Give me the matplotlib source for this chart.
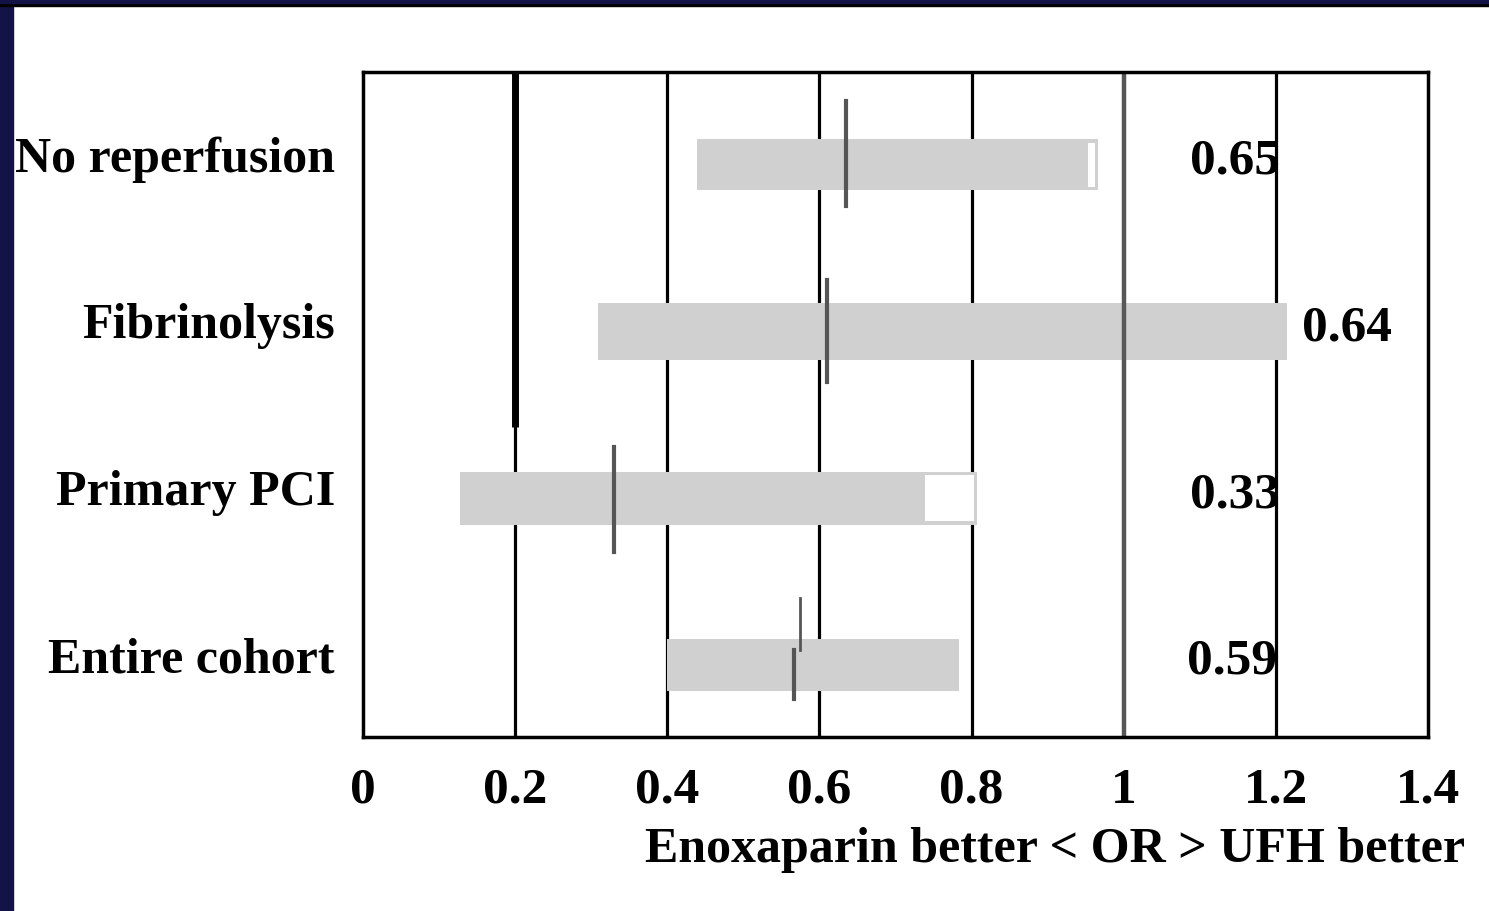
import matplotlib.pyplot as plt
from matplotlib.patches import Rectangle

# data (bottom to top)
groups = ['Entire cohort', 'Primary PCI', 'Fibrinolysis', 'No reperfusion']
or_vals = [0.57, 0.33, 0.61, 0.635]
ci_low = [0.40, 0.127, 0.309, 0.439]
ci_high = [0.784, 0.807, 1.215, 0.966]
white_from = [None, 0.739, None, 0.953]   # white boxed end segment of some bars
labels = ['0.59', '0.33', '0.64', '0.65']
label_x = [1.083, 1.087, 1.235, 1.087]
xticks = [0, 0.2, 0.4, 0.6, 0.8, 1.0, 1.2, 1.4]
xtick_labels = ['0', '0.2', '0.4', '0.6', '0.8', '1', '1.2', '1.4']

plt.rcParams['font.family'] = ['Liberation Serif', 'DejaVu Serif']
plt.rcParams['font.weight'] = 'bold'
fs = 37

fig = plt.figure(figsize=(14.89, 9.11), dpi=100)
fig.patch.set_facecolor('white')

# navy frame of the slide
fig.add_artist(Rectangle((0, 0), 13 / 1489, 1, transform=fig.transFigure, color='#131347', zorder=0))
fig.add_artist(Rectangle((0, 1 - 6 / 911), 1, 6 / 911, transform=fig.transFigure, color='black', zorder=0))
fig.add_artist(Rectangle((0, 1 - 2.5 / 911), 1, 2.5 / 911, transform=fig.transFigure, color='#131347', zorder=1))

ax = fig.add_axes([363 / 1489, 174 / 911, 1065 / 1489, 665 / 911])
ax.set_xlim(0, 1.4)
ax.set_ylim(-0.43, 3.555)

# grid lines
for g in [0.4, 0.6, 0.8, 1.2]:
    ax.axvline(g, color='black', lw=2.3, zorder=1)
ax.axvline(0.2, color='black', lw=2.3, zorder=1)
ax.plot([0.2, 0.2], [1.43, 3.555], color='black', lw=5, solid_capstyle='butt', zorder=1)
ax.axvline(1.0, color='#555855', lw=3.2, zorder=4)

ys = list(range(len(groups)))
heights = [0.31, 0.32, 0.34, 0.31]
ax.barh(ys, [h - l for l, h in zip(ci_low, ci_high)], left=ci_low,
        height=heights, color='#d0d0d0', zorder=2)
for y, w, h, hi in zip(ys, white_from, heights, ci_high):
    if w is not None:
        ax.barh(y, hi - w - 0.004, left=w, height=h - 0.045, color='white',
                linewidth=0, zorder=3)

# point estimate marks (extent above / below the bar centre)
tick_up = [0.40, 0.31, 0.31, 0.38]
tick_dn = [0.20, 0.32, 0.30, 0.25]
for y, v, tu, td in zip(ys, or_vals, tick_up, tick_dn):
    if y == 0:
        ax.plot([v + 0.004, v + 0.004], [y + 0.09, y + tu], color='#555555', lw=2, zorder=5)
        ax.plot([v - 0.003, v - 0.003], [y - td, y + 0.09], color='#555555', lw=3, zorder=5)
    else:
        ax.plot([v, v], [y - td, y + tu], color='#555555', lw=3, zorder=5)

for y, lab, lx in zip(ys, labels, label_x):
    t = ax.text(lx, y + 0.02, lab, fontsize=fs, fontweight='bold', va='center', ha='left', zorder=6)
    if lx < 1.2:
        t.set_clip_path(Rectangle((0, -1), 1.2, 6, transform=ax.transData))

ax.set_xticks(xticks)
ax.set_xticklabels(xtick_labels, fontsize=fs, fontweight='bold')
ax.set_yticks(ys)
ax.set_yticklabels([])
# category names, sitting a little above the bar centres
for y, g in zip(ys, groups):
    ax.text(-28 / 1065, y + 0.03, g, transform=ax.get_yaxis_transform(),
            fontsize=36, fontweight='bold', ha='right', va='center')
ax.tick_params(axis='x', length=0, pad=22)
ax.tick_params(axis='y', length=0)
for s in ax.spines.values():
    s.set_linewidth(2.5)
    s.set_zorder(7)

fig.text(1465 / 1489, 49 / 911, 'Enoxaparin better < OR > UFH better',
         fontsize=36, fontweight='bold', ha='right', va='baseline')

fig.savefig('out.png', dpi=100, facecolor='white')
